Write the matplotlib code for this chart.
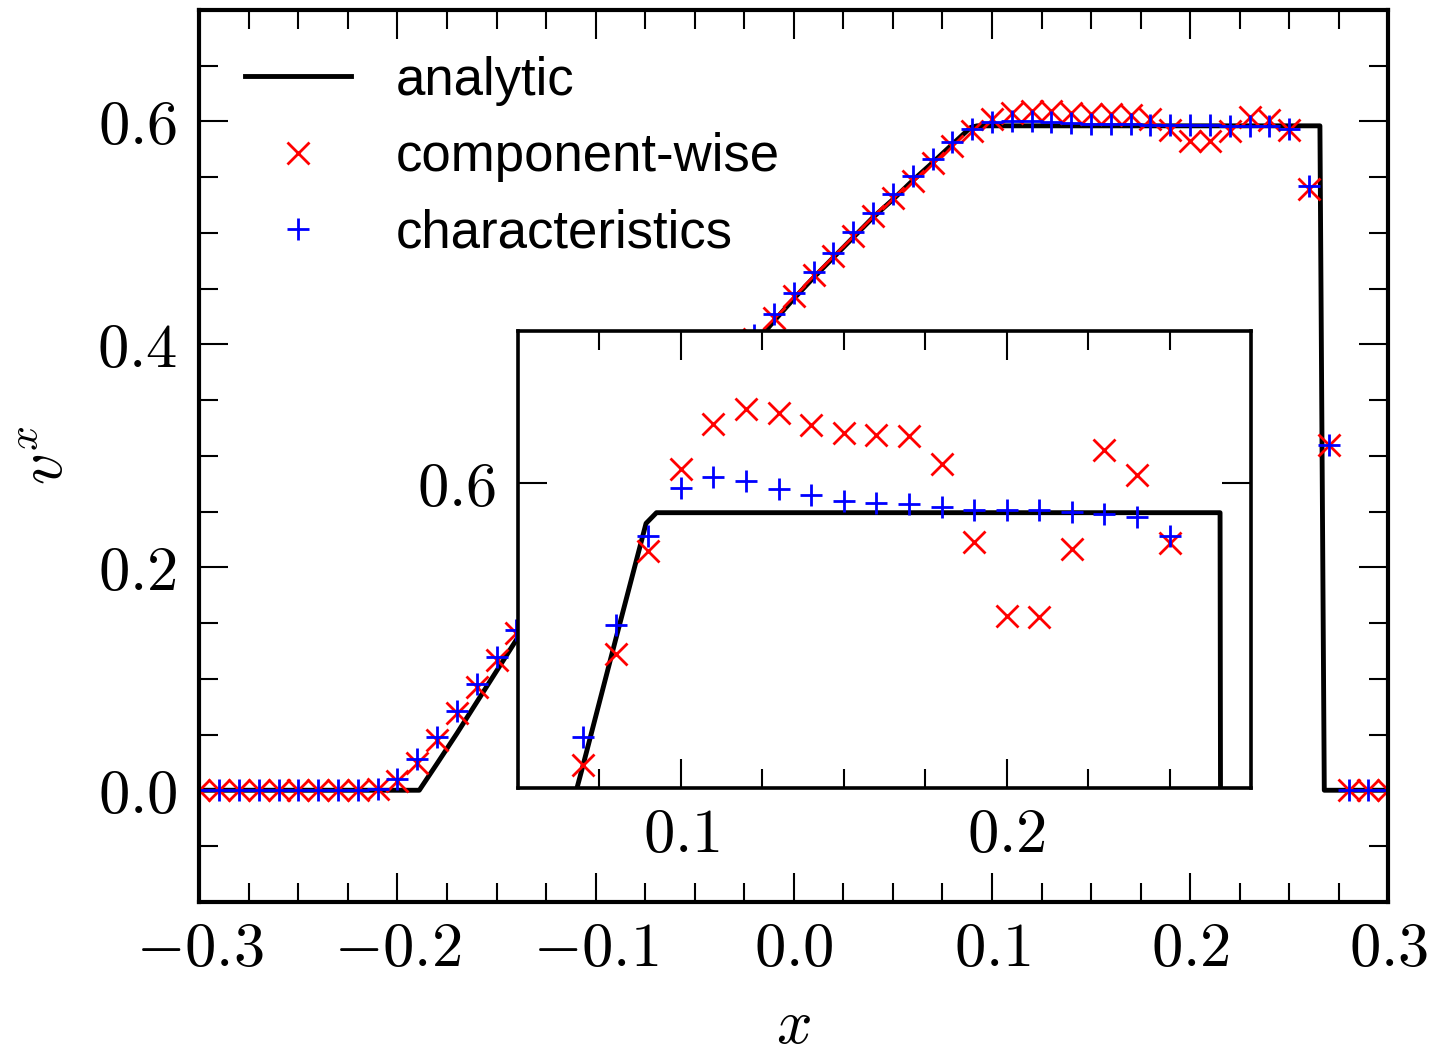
"""
plot.py - velocity profile v^x of a relativistic shock tube,
analytic solution vs. component-wise and characteristic reconstruction,
with a zoomed inset on the post-rarefaction plateau.
"""
import matplotlib
matplotlib.use("Agg")
import matplotlib.pyplot as plt
import numpy as np
from matplotlib.ticker import MultipleLocator, FuncFormatter, FixedLocator

plt.rcParams["mathtext.fontset"] = "cm"
plt.rcParams["font.family"] = ["Liberation Sans", "DejaVu Sans"]

# --- data ---
x_cells = np.linspace(-0.3, 0.3, 61)

v_characteristics = [
    0, 0, 0, 0, 0, 0, 0, 0, 0,
    0.0015, 0.0105, 0.0276, 0.0479, 0.0713, 0.0953, 0.1192, 0.1438,
    0.168, 0.192, 0.216, 0.239, 0.262, 0.284, 0.306, 0.327, 0.348,
    0.368, 0.388, 0.408, 0.4269,
    0.4463, 0.4649, 0.4823, 0.5008, 0.5182, 0.5347, 0.5511, 0.5667,
    0.5814, 0.5930, 0.5993, 0.6008, 0.6003, 0.5992, 0.5984, 0.5976,
    0.5974, 0.5973, 0.5968, 0.5965, 0.5965, 0.5964, 0.5962, 0.5959,
    0.5955, 0.5930, 0.542, 0.310, 0, 0, 0,
]

v_componentwise = [
    0, 0, 0, 0, 0, 0, 0, 0, 0,
    0.001, 0.008, 0.024, 0.045, 0.069, 0.093, 0.117, 0.141,
    0.165, 0.189, 0.213, 0.236, 0.259, 0.281, 0.303, 0.324, 0.345,
    0.365, 0.385, 0.405, 0.424,
    0.443, 0.462, 0.479, 0.497, 0.515, 0.531, 0.547, 0.5630,
    0.5776, 0.5911, 0.6018, 0.6078, 0.6097, 0.6092, 0.6076, 0.6065,
    0.6063, 0.6062, 0.6025, 0.5922, 0.5826, 0.5824, 0.5913, 0.6043,
    0.6011, 0.5921, 0.539, 0.310, 0, 0, 0,
]

x_analytic = [-0.30, -0.189, -0.18, -0.17, -0.16, -0.15, -0.14, -0.12, -0.10,
              -0.08, -0.06, -0.04, -0.02, -0.01, 0.00, 0.01, 0.02, 0.03, 0.04,
              0.05, 0.06, 0.07, 0.08, 0.0893, 0.0925, 0.2655, 0.2677, 0.30]
v_analytic = [0, 0, 0.024, 0.051, 0.079, 0.107, 0.135, 0.182, 0.227,
              0.271, 0.314, 0.356, 0.400, 0.421, 0.441, 0.460, 0.478, 0.496,
              0.514, 0.530, 0.547, 0.563, 0.5795, 0.5947, 0.5961, 0.5961, 0, 0]


def tex_fmt(v, pos):
    v = 0.0 if abs(v) < 1e-9 else v
    return f"${v:.1f}$"


def style_axes(ax, lw):
    for s in ax.spines.values():
        s.set_linewidth(lw)
    ax.tick_params(which="both", direction="in", top=True, right=True,
                   width=1.5, labelsize=45)
    ax.tick_params(axis="x", pad=13)
    ax.tick_params(axis="y", pad=16)
    ax.tick_params(which="major", length=21)
    ax.tick_params(which="minor", length=13.5)
    ax.xaxis.set_major_formatter(FuncFormatter(tex_fmt))
    ax.yaxis.set_major_formatter(FuncFormatter(tex_fmt))


def draw(ax):
    ax.plot(x_analytic, v_analytic, color="black", lw=3.5, label="analytic")
    ax.plot(x_cells, v_componentwise, ls="none", marker="x", ms=15.5,
            mew=2.0, color="red", label="component-wise")
    ax.plot(x_cells, v_characteristics, ls="none", marker="+", ms=15.5,
            mew=2.0, color="blue", label="characteristics")


fig = plt.figure(figsize=(14.33, 10.55), dpi=100)
ax = fig.add_axes([0.1391, 0.1453, 0.8297, 0.8452])
draw(ax)
ax.set_xlim(-0.3, 0.3)
ax.set_ylim(-0.1, 0.7)
ax.xaxis.set_major_locator(MultipleLocator(0.1))
ax.xaxis.set_minor_locator(MultipleLocator(0.025))
ax.yaxis.set_major_locator(MultipleLocator(0.2))
ax.yaxis.set_minor_locator(MultipleLocator(0.05))
style_axes(ax, 3.0)
ax.set_xlabel("$x$", fontsize=45, labelpad=13)
ax.set_ylabel("$v^x$", fontsize=45, labelpad=15)

ax.legend(loc="upper left", bbox_to_anchor=(0.0, 1.0), frameon=False,
          fontsize=38, numpoints=1, handlelength=2.0, handletextpad=0.85,
          labelspacing=0.5, borderaxespad=0.47)

# inset zoom on the plateau
axin = fig.add_axes([0.3615, 0.2534, 0.5115, 0.4332])
draw(axin)
axin.set_xlim(0.05, 0.275)
axin.set_ylim(0.56, 0.62)
axin.xaxis.set_major_locator(MultipleLocator(0.1))
axin.xaxis.set_minor_locator(MultipleLocator(0.025))
axin.yaxis.set_major_locator(FixedLocator([0.6]))
style_axes(axin, 2.6)

fig.savefig("out.png", dpi=100)
